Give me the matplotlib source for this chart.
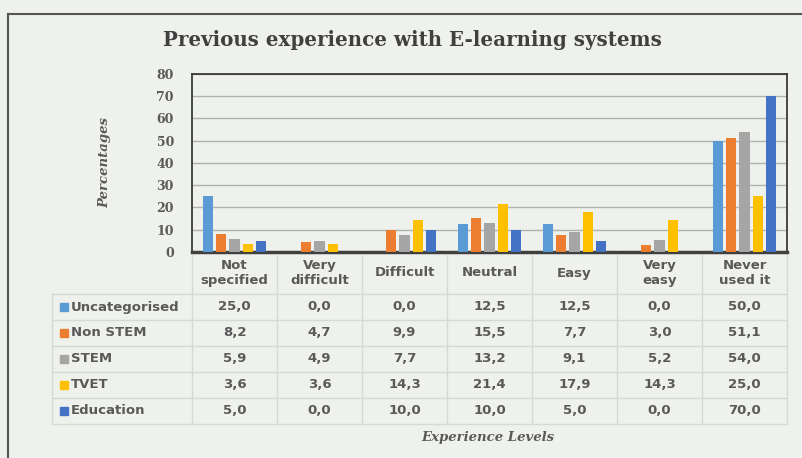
import matplotlib.pyplot as plt
import numpy as np

# data
levels = ['Not\nspecified', 'Very\ndifficult', 'Difficult', 'Neutral', 'Easy', 'Very\neasy', 'Never\nused it']
groups = ['Uncategorised', 'Non STEM', 'STEM', 'TVET', 'Education']
uncategorised = [25.0, 0.0, 0.0, 12.5, 12.5, 0.0, 50.0]
non_stem = [8.2, 4.7, 9.9, 15.5, 7.7, 3.0, 51.1]
stem = [5.9, 4.9, 7.7, 13.2, 9.1, 5.2, 54.0]
tvet = [3.6, 3.6, 14.3, 21.4, 17.9, 14.3, 25.0]
education = [5.0, 0.0, 10.0, 10.0, 5.0, 0.0, 70.0]
series = [uncategorised, non_stem, stem, tvet, education]
colors = ['#5B9BD5', '#ED7D31', '#A5A5A5', '#FFC000', '#4472C4']
yticks = [0, 10, 20, 30, 40, 50, 60, 70, 80]

W, H = 802, 458
bg = '#eff2ec'
txt = '#595959'

fig = plt.figure(figsize=(W / 100, H / 100), dpi=100)
fig.patch.set_facecolor(bg)

def fx(px):
    return px / W

def fy(py):
    return 1 - py / H

# outer frame (top and left edges visible)
fig.add_artist(plt.Line2D([fx(8), fx(802)], [fy(14), fy(14)], color='#555555', lw=1.5))
fig.add_artist(plt.Line2D([fx(8), fx(8)], [fy(14), fy(458)], color='#555555', lw=1.5))

# plot area
x0, x1, ytop, ybot = 192, 787, 74, 252
ax = fig.add_axes([fx(x0), fy(ybot), fx(x1 - x0), (ybot - ytop) / H])
ax.set_facecolor(bg)
n = len(levels)
x = np.arange(n)
pitch = 0.155
bw = 0.12
for i, (vals, c) in enumerate(zip(series, colors)):
    ax.bar(x + (i - 2) * pitch, vals, width=bw, color=c, zorder=3)
ax.set_xlim(-0.5, n - 0.5)
ax.set_ylim(0, 80)
ax.set_yticks(yticks)
ax.set_yticklabels([str(v) for v in yticks], family='DejaVu Serif', fontweight='bold',
                   fontsize=9, color=txt)
ax.tick_params(axis='y', length=0, pad=13)
ax.set_xticks([])
ax.grid(axis='y', color='#b0b0b0', lw=1, zorder=0)
for s in ['top', 'left', 'right']:
    ax.spines[s].set_color('#3a3a3a')
    ax.spines[s].set_linewidth(1.3)
ax.spines['bottom'].set_color('#404040')
ax.spines['bottom'].set_linewidth(2.5)

# title and axis labels
fig.text(fx(412), fy(40), 'Previous experience with E-learning systems', ha='center', va='center',
         family='DejaVu Serif', fontweight='bold', fontsize=14.3, color='#404040')
fig.text(fx(105), fy(163), 'Percentages', rotation=90, ha='center', va='center',
         family='DejaVu Serif', fontweight='bold', style='italic', fontsize=9.5, color=txt)
fig.text(fx(488), fy(437), 'Experience Levels', ha='center', va='center',
         family='DejaVu Serif', fontweight='bold', style='italic', fontsize=9.5, color=txt)

# data table
grid_c = '#d6d9d4'
tleft = 52
col_w = (x1 - x0) / n
row_top = 294
row_h = 26
nrows = len(groups)
tbot = row_top + row_h * nrows
# horizontal lines
for r in range(nrows + 1):
    yy = row_top + r * row_h
    fig.add_artist(plt.Line2D([fx(tleft), fx(x1)], [fy(yy), fy(yy)], color=grid_c, lw=1))
# vertical lines
fig.add_artist(plt.Line2D([fx(tleft), fx(tleft)], [fy(row_top), fy(tbot)], color=grid_c, lw=1))
for c in range(n + 1):
    xx = x0 + c * col_w
    fig.add_artist(plt.Line2D([fx(xx), fx(xx)], [fy(ybot + 3), fy(tbot)], color=grid_c, lw=1))

# header labels
for c, lab in enumerate(levels):
    fig.text(fx(x0 + (c + 0.5) * col_w), fy(273), lab, ha='center', va='center',
             fontweight='bold', fontsize=9.5, color=txt, linespacing=1.2)

# rows
for r, (g, vals, col) in enumerate(zip(groups, series, colors)):
    yc = row_top + (r + 0.5) * row_h
    fig.add_artist(plt.Rectangle((fx(60), fy(yc + 4)), fx(8), 8 / H, color=col))
    fig.text(fx(71), fy(yc), g, ha='left', va='center', fontweight='bold', fontsize=9.5, color=txt)
    for c, v in enumerate(vals):
        fig.text(fx(x0 + (c + 0.5) * col_w), fy(yc), f'{v:.1f}'.replace('.', ','),
                 ha='center', va='center', fontweight='bold', fontsize=9.5, color=txt)

fig.savefig('out.png', dpi=100, facecolor=bg)
